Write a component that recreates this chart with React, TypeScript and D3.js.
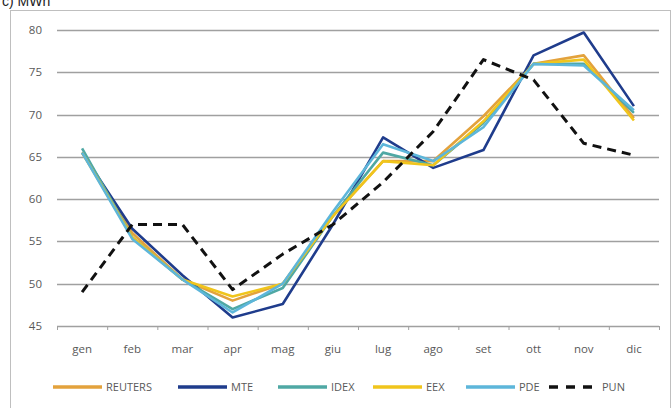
import React from "react";
import * as d3 from "d3";

const months = ["gen", "feb", "mar", "apr", "mag", "giu", "lug", "ago", "set", "ott", "nov", "dic"];
const yTicks = [45, 50, 55, 60, 65, 70, 75, 80];

const reuters = [65.5, 56.0, 50.5, 48.0, 50.0, 58.0, 64.5, 64.5, 69.8, 76.0, 77.0, 69.6];
const mte = [65.5, 56.5, 51.0, 46.0, 47.6, 57.0, 67.3, 63.7, 65.8, 77.0, 79.7, 71.0];
const idex = [66.0, 55.5, 50.5, 47.0, 49.5, 58.0, 65.5, 64.0, 69.0, 76.0, 76.0, 70.2];
const eex = [65.5, 55.5, 50.5, 48.5, 50.0, 58.0, 64.5, 64.0, 69.2, 76.0, 76.5, 69.3];
const pde = [65.5, 55.3, 50.5, 46.6, 50.0, 58.5, 66.5, 64.5, 68.5, 76.0, 75.8, 70.5];
const pun = [49.0, 57.0, 57.0, 49.3, 53.5, 57.0, 62.0, 68.0, 76.5, 74.1, 66.6, 65.2];

const series = [
  { name: "REUTERS", values: reuters, color: "#E3A23C", dash: null },
  { name: "MTE", values: mte, color: "#1F3C8C", dash: null },
  { name: "IDEX", values: idex, color: "#4FA8A4", dash: null },
  { name: "EEX", values: eex, color: "#F0C51C", dash: null },
  { name: "PDE", values: pde, color: "#5DB6DA", dash: null },
  { name: "PUN", values: pun, color: "#111111", dash: "9,6" },
];

const legendX = [53, 178, 278, 373, 466, 549];

export default function App() {
  const W = 672, H = 408;
  const x = d3.scaleBand<string>().domain(months).range([57, 659]);
  const y = d3.scaleLinear().domain([45, 80]).range([326, 30]);
  const line = d3
    .line<number>()
    .x((_, i) => (x(months[i]) as number) + x.bandwidth() / 2)
    .y((d) => y(d));
  const font = "'Open Sans', 'Liberation Sans', sans-serif";
  const textColor = "#595959";
  return (
    <svg
      width={W}
      height={H}
      style={{ position: "absolute", left: 0, top: 0, background: "#fff" }}
      fontFamily={font}
    >
      <text x={2} y={6} fontSize={14} fill="#222" fontFamily="'Liberation Sans', sans-serif">c) MWh</text>
      <rect x={10.5} y={10.5} width={660} height={400} fill="#fff" stroke="#BFBFBF" strokeWidth={1} />
      {yTicks.map((t) => (
        <g key={t}>
          {t !== 45 && (
            <line x1={57} x2={659} y1={Math.round(y(t)) + 0.5} y2={Math.round(y(t)) + 0.5} stroke="#A0A0A0" strokeWidth={1.3} />
          )}
          <text x={42} y={y(t)} dy="0.35em" textAnchor="end" fontSize={11.5} fill={textColor}>
            {t}
          </text>
        </g>
      ))}
      <line x1={57} x2={659} y1={Math.round(y(45)) + 0.5} y2={Math.round(y(45)) + 0.5} stroke="#A0A0A0" strokeWidth={1.3} />
      {months.map((m) => (
        <line
          key={"t" + m}
          x1={(x(m) as number) + 0.5}
          x2={(x(m) as number) + 0.5}
          y1={y(45)}
          y2={y(45) + 4}
          stroke="#A0A0A0"
        />
      ))}
      <line x1={659.5} x2={659.5} y1={y(45)} y2={y(45) + 4} stroke="#A0A0A0" />
      {months.map((m) => (
        <text
          key={m}
          x={(x(m) as number) + x.bandwidth() / 2}
          y={349}
          dy="0.35em"
          textAnchor="middle"
          fontSize={11.5}
          fill={textColor}
        >
          {m}
        </text>
      ))}
      {series.map((s) => (
        <path
          key={s.name}
          d={line(s.values) || ""}
          fill="none"
          stroke={s.color}
          strokeWidth={s.dash ? 3 : 2.6}
          strokeDasharray={s.dash || undefined}
          strokeLinejoin="round"
        />
      ))}
      {series.map((s, i) => (
        <g key={"l" + s.name} transform={`translate(${legendX[i]},387)`}>
          <line x1={0} x2={49} y1={0} y2={0} stroke={s.color} strokeWidth={3.5} strokeDasharray={s.dash ? "9,8" : undefined} />
          <text x={53} y={0} dy="0.35em" fontSize={11} fill={textColor}>
            {s.name}
          </text>
        </g>
      ))}
    </svg>
  );
}
